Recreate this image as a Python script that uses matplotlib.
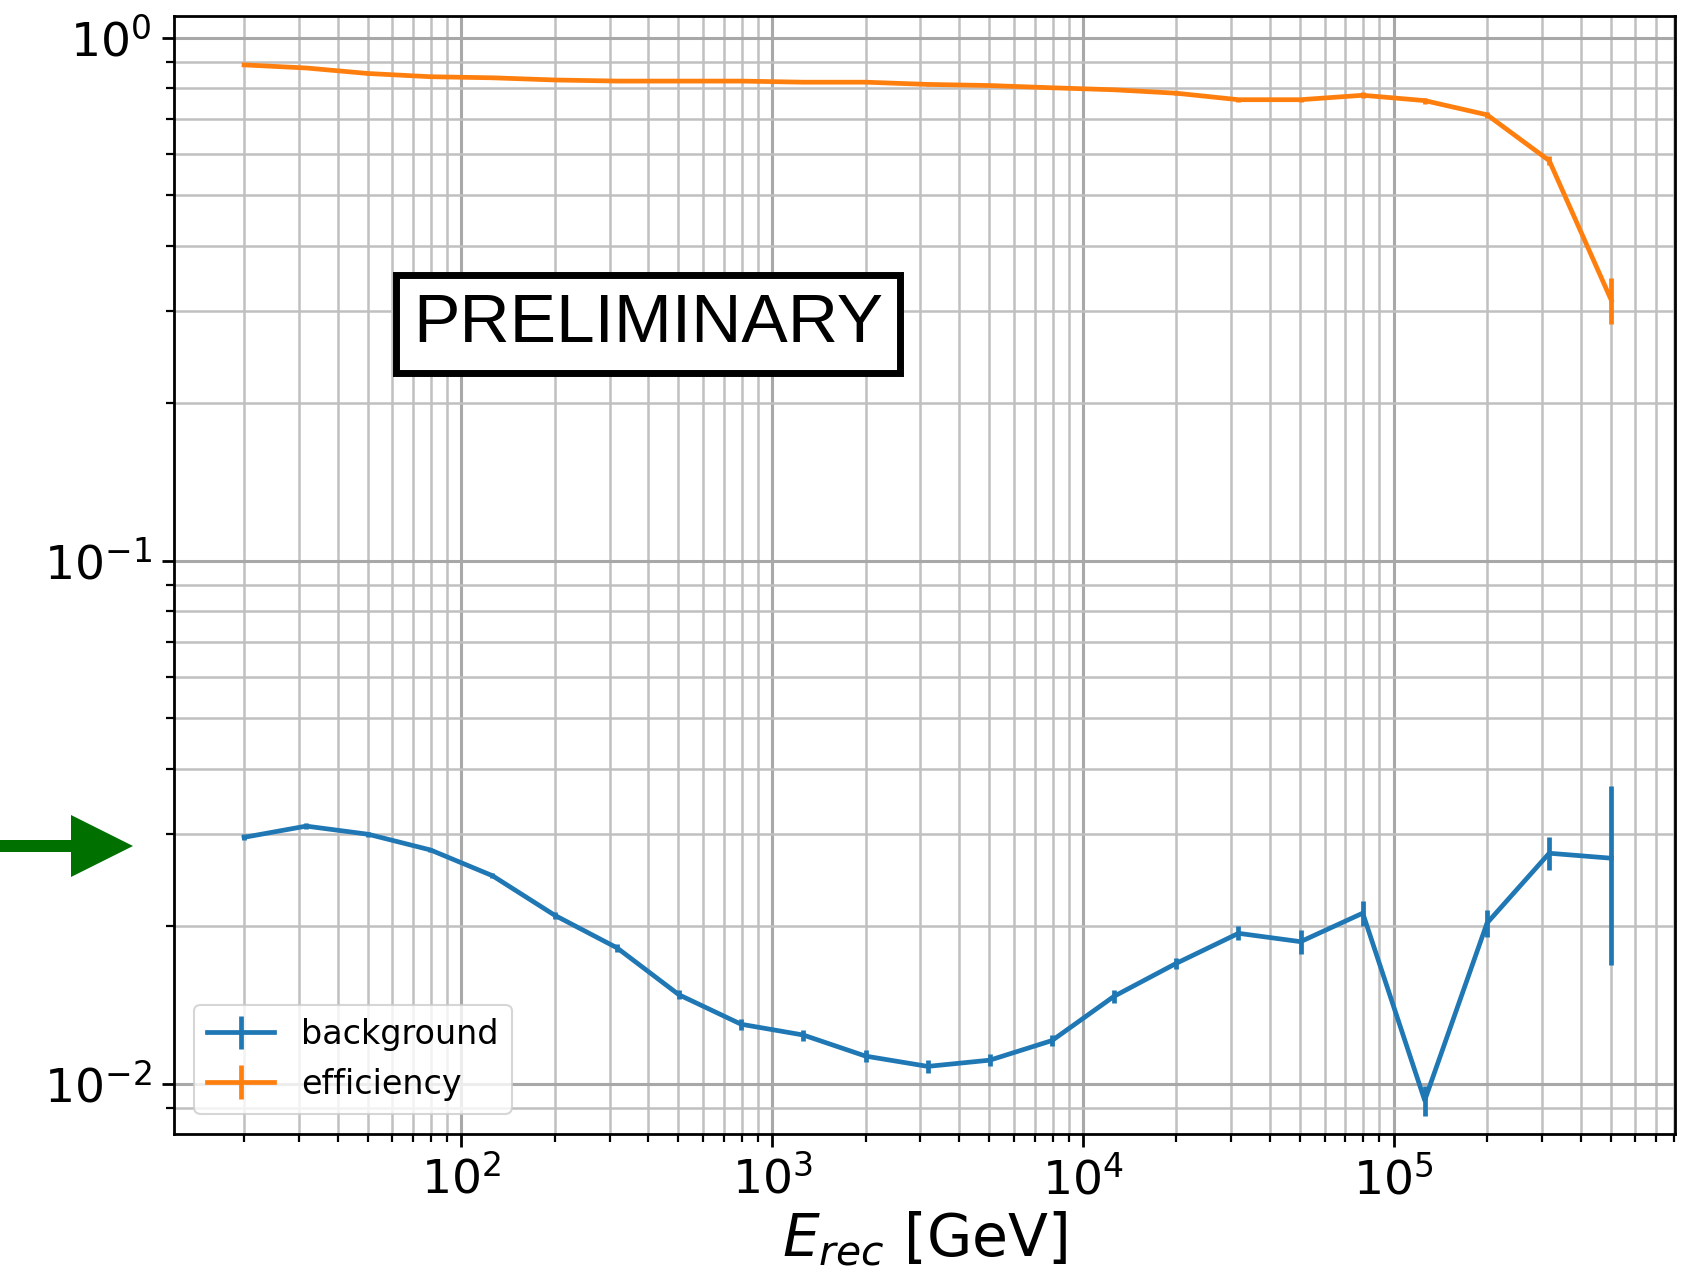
import matplotlib
matplotlib.use("Agg")
import matplotlib.pyplot as plt
from matplotlib.patches import Polygon

# ---- data ----
energy = [20, 31.7, 50.2, 79.6, 126, 200, 317, 502, 796, 1260, 2000, 3170,
          5020, 7960, 12600, 20000, 31700, 50200, 79600, 126000, 200000,
          317000, 502000]
background = [0.0296, 0.0311, 0.0300, 0.0280, 0.0250, 0.0210, 0.0182, 0.0148,
              0.0130, 0.0124, 0.0113, 0.0108, 0.0111, 0.0121, 0.0147, 0.0170,
              0.0194, 0.0187, 0.0212, 0.0093, 0.0203, 0.0276, 0.0270]
background_err = [0.0004, 0.0004, 0.0003, 0.0003, 0.0003, 0.0003, 0.0003, 0.0003,
                  0.0003, 0.0003, 0.0003, 0.0003, 0.0003, 0.0003, 0.0004, 0.0004,
                  0.0006, 0.0010, 0.0012, 0.0006, 0.0012, 0.0020, 0.0101]
efficiency = [0.887, 0.875, 0.854, 0.842, 0.838, 0.830, 0.826, 0.826, 0.826,
              0.822, 0.822, 0.814, 0.810, 0.802, 0.795, 0.783, 0.761, 0.761,
              0.776, 0.758, 0.712, 0.582, 0.315]
efficiency_err = [0.004, 0.004, 0.004, 0.004, 0.004, 0.004, 0.004, 0.004, 0.004,
                  0.004, 0.004, 0.004, 0.004, 0.004, 0.005, 0.005, 0.006, 0.007,
                  0.010, 0.010, 0.010, 0.012, 0.032]
series_labels = ["background", "efficiency"]
xlabel = "$E_{rec}$ [GeV]"
stamp = "PRELIMINARY"

W, H = 1705, 1280
fig = plt.figure(figsize=(W / 100, H / 100), dpi=100)
ax = fig.add_axes([174 / W, 1 - 1134 / H, (1675 - 174) / W, (1134 - 16) / H])

ax.set_xscale("log")
ax.set_yscale("log")

ax.errorbar(energy, background, yerr=background_err, color="#1f77b4",
            lw=3.4, elinewidth=3.4, label=series_labels[0])
ax.errorbar(energy, efficiency, yerr=efficiency_err, color="#ff7f0e",
            lw=3.4, elinewidth=3.4, label=series_labels[1])

ax.set_xlim(11.9, 8.05e5)
ax.set_ylim(0.00802, 1.10)

ax.grid(which="major", color="#a8a8a8", lw=2.2)
ax.grid(which="minor", color="#c0c0c0", lw=1.8)
ax.set_axisbelow(True)

for s in ax.spines.values():
    s.set_linewidth(2.0)
ax.tick_params(which="major", length=9, width=2.0, labelsize=34, pad=7)
ax.tick_params(which="minor", length=5.5, width=1.6)

ax.set_xlabel(xlabel, fontsize=42, labelpad=4)

leg = ax.legend(loc="lower left", fontsize=24, borderaxespad=0.6,
                handlelength=2.0, framealpha=0.8)
leg.get_frame().set_linewidth(1.5)

fig.text(648 / W, 1 - 324 / H, stamp, fontsize=50, family="Liberation Sans",
         ha="center", va="center",
         bbox=dict(boxstyle="square,pad=0.25", fc="white", ec="black", lw=5))

# green arrow outside the axes on the left (pixel geometry)
pts_px = [(0, 840), (71, 840), (71, 815), (133, 846), (71, 877), (71, 852), (0, 852)]
pts = [(x / W, 1 - y / H) for x, y in pts_px]
fig.patches.append(Polygon(pts, closed=True, transform=fig.transFigure,
                           fc="#007000", ec="none"))

fig.savefig("out.png", dpi=100)
